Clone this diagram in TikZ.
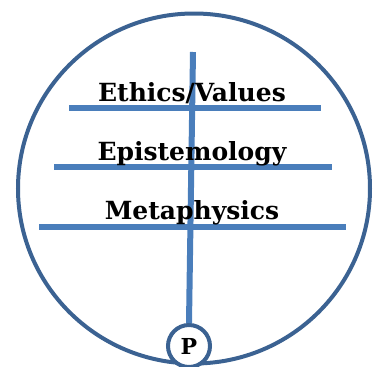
\documentclass[tikz,border=0pt]{standalone}
\usepackage{fontspec}
\setmainfont{DejaVu Serif}
\usepackage{tikz}
\usetikzlibrary{positioning}
\definecolor{rimblue}{HTML}{3B6292}
\definecolor{barblue}{HTML}{4A7EBB}

\begin{document}
\begin{tikzpicture}[
        x=1pt, y=-1pt,
        rim/.style={draw=rimblue, line width=4pt},
        bar/.style={draw=barblue, line width=6pt},
        branchtext/.style={font=\bfseries\fontsize{25}{28}\selectfont, inner sep=0pt, anchor=base}
    ]
        \useasboundingbox (0,0) rectangle (373,367);

        % Outer ring
        \draw[rim] (194,188.5) ellipse (176 and 175);

        % Stem and cross bars
        \coordinate (top) at (193,52);
        \node (p) [rim, circle, fill=white, minimum size=42pt, inner sep=0pt,
                   font=\bfseries\fontsize{22}{24}\selectfont] at (189,346) {P};
        \draw[bar] (top) -- (p.north);
        \draw[bar] (69,108) -- (321,108);
        \draw[bar] (54,167) -- (332,167);
        \draw[bar] (39,227) -- (346,227);

        % Labels
        \node (eth) [branchtext] at (192,101) {Ethics/Values};
        \node (epi) [branchtext] at (192,160) {Epistemology};
        \node (met) [branchtext] at (192,219) {Metaphysics};

    \end{tikzpicture}
\end{document}
